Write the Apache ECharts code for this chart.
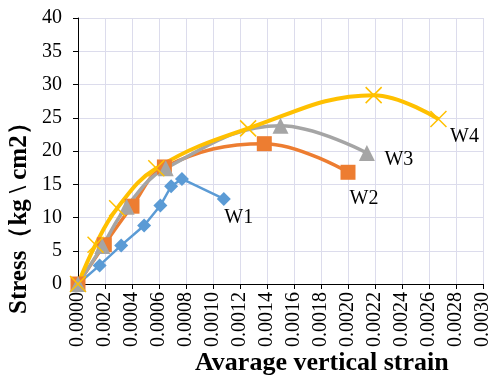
<!DOCTYPE html>
<html>
<head>
<meta charset="utf-8">
<script src="https://cdn.jsdelivr.net/npm/echarts@6/dist/echarts.min.js"></script>
<style>
  html, body { margin: 0; padding: 0; background: #fff; }
  #chart { width: 493px; height: 382px; }
</style>
</head>
<body>
<div id="chart"></div>
<script>
// strain / stress readings for each wall
const w1Strain = [0, 0.00016, 0.00032, 0.00049, 0.00061, 0.00069, 0.00077, 0.00108];
const w1Stress = [0, 2.8, 5.8, 8.8, 11.8, 14.7, 15.8, 12.8];

const w2Strain = [0, 0.000195, 0.0004, 0.00064, 0.00138, 0.0020];
const w2Stress = [0, 5.9, 11.7, 17.6, 21.1, 16.8];

const w3Strain = [0, 0.00018, 0.00036, 0.00065, 0.0015, 0.00214];
const w3Stress = [0, 5.7, 11.6, 17.4, 23.8, 19.7];

const w4Strain = [0, 0.00013, 0.00029, 0.00058, 0.00126, 0.00219, 0.00267];
const w4Stress = [0, 5.9, 11.4, 17.4, 23.4, 28.4, 24.8];

const seriesNames = ['W1', 'W2', 'W3', 'W4'];
const seriesColors = ['#5B9BD5', '#ED7D31', '#A5A5A5', '#FFC000'];

const serif = '"Liberation Serif", "Times New Roman", serif';

function pairs(xs, ys, labelOffset) {
  let out = [];
  for (let i = 0; i < xs.length; i++) {
    out.push([xs[i], ys[i]]);
  }
  // label the last point with the series name
  let last = out.length - 1;
  out[last] = {
    value: out[last],
    label: {
      show: true,
      position: 'inside',
      offset: labelOffset,
      formatter: '{a}',
      color: '#000',
      fontFamily: serif,
      fontSize: 20
    }
  };
  return out;
}

const chart = echarts.init(document.getElementById('chart'), null, { renderer: 'canvas' });

chart.setOption({
  animation: false,
  backgroundColor: '#fff',
  grid: { left: 78, right: 6, top: 18, bottom: 98 },
  xAxis: {
    type: 'value',
    min: 0,
    max: 0.003,
    interval: 0.0002,
    axisLine: { show: true, lineStyle: { color: '#000', width: 1 } },
    axisTick: { show: true, inside: false, length: 5, lineStyle: { color: '#000' } },
    axisLabel: {
      rotate: 90,
      color: '#000',
      fontFamily: serif,
      fontSize: 20,
      margin: 8,
      formatter: v => v.toFixed(4)
    },
    splitLine: { show: true, lineStyle: { color: '#DCDCEC', width: 1 } }
  },
  yAxis: {
    type: 'value',
    min: 0,
    max: 40,
    interval: 5,
    axisLine: { show: true, lineStyle: { color: '#000', width: 1 } },
    axisTick: { show: true, inside: false, length: 5, lineStyle: { color: '#000' } },
    axisLabel: { color: '#000', fontFamily: serif, fontSize: 20, margin: 16 },
    splitLine: { show: true, lineStyle: { color: '#DCDCEC', width: 1 } }
  },
  graphic: [
    {
      type: 'text',
      left: 195,
      top: 350,
      style: {
        text: 'Avarage vertical strain',
        font: 'bold 26px ' + serif,
        fill: '#000'
      }
    },
    {
      type: 'text',
      x: 7,
      y: 314,
      rotation: Math.PI / 2,
      style: {
        text: 'Stress（kg \\ cm2）',
        font: 'bold 25px ' + serif,
        fill: '#000'
      }
    }
  ],
  series: [
    {
      name: seriesNames[0],
      type: 'line',
      data: pairs(w1Strain, w1Stress, [15, 19]),
      symbol: 'diamond',
      symbolSize: 14,
      lineStyle: { color: seriesColors[0], width: 2.5 },
      itemStyle: { color: seriesColors[0] }
    },
    {
      name: seriesNames[1],
      type: 'line',
      smooth: 0.4,
      data: pairs(w2Strain, w2Stress, [16, 26]),
      symbol: 'rect',
      symbolSize: 15,
      lineStyle: { color: seriesColors[1], width: 3.5 },
      itemStyle: { color: seriesColors[1] }
    },
    {
      name: seriesNames[2],
      type: 'line',
      smooth: 0.4,
      data: pairs(w3Strain, w3Stress, [32, 7]),
      symbol: 'triangle',
      symbolSize: 16,
      lineStyle: { color: seriesColors[2], width: 3.5 },
      itemStyle: { color: seriesColors[2] }
    },
    {
      name: seriesNames[3],
      type: 'line',
      smooth: 0.4,
      data: pairs(w4Strain, w4Stress, [26, 18]),
      symbol: 'path://M0,0L10,10M10,0L0,10',
      symbolSize: 16,
      lineStyle: { color: seriesColors[3], width: 4 },
      itemStyle: { color: 'none', borderColor: seriesColors[3], borderWidth: 1.5 }
    }
  ]
});
</script>
</body>
</html>
